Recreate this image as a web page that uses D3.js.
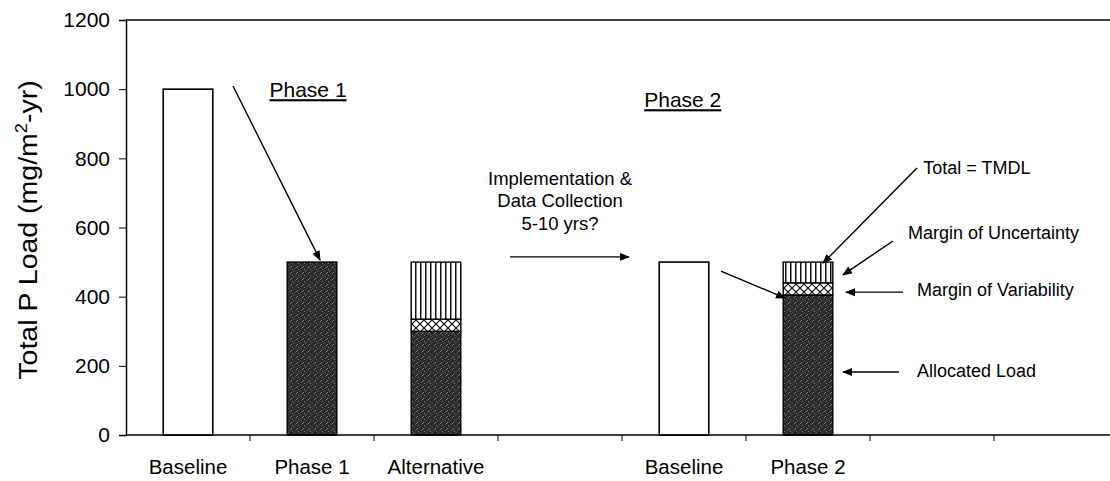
<!DOCTYPE html>
<html><head><meta charset="utf-8">
<script src="https://cdn.jsdelivr.net/npm/d3@7"></script>
<style>
body{margin:0;background:#fff;}
svg{display:block;font-family:"Liberation Sans",Arial,sans-serif;}
</style></head>
<body><svg id="c" width="1110" height="481"></svg>
<script>
// ---- data ----
const categories = ["Baseline","Phase 1","Alternative","","Baseline","Phase 2","",""];
const openLoad     = [1000, 0, 0, 0, 500, 0, 0, 0];
const allocated    = [0, 500, 300, 0, 0, 405, 0, 0];
const variability  = [0, 0, 35, 0, 0, 35, 0, 0];
const uncertainty  = [0, 0, 165, 0, 0, 60, 0, 0];
const yTicks = [0, 200, 400, 600, 800, 1000, 1200];

// annotations in data space: [band position, value]
const arrows = [
  {from:[0.863,1009], to:[1.565,506]},
  {from:[3.097,515],  to:[4.056,515]},
  {from:[4.798,474],  to:[5.315,396]},
  {from:[6.379,772],  to:[5.621,497]},
  {from:[6.185,561],  to:[5.782,463]},
  {from:[6.266,413],  to:[5.806,413]},
  {from:[6.234,182],  to:[5.782,182]}
];
const sideLabels = [
  {text:"Total = TMDL", at:[6.43,772]},
  {text:"Margin of Uncertainty", at:[6.306,584]},
  {text:"Margin of Variability", at:[6.379,419]},
  {text:"Allocated Load", at:[6.379,185]}
];
const phaseTitles = [
  {text:"Phase 1", at:[1.468,998]},
  {text:"Phase 2", at:[4.49,969]}
];
const implLines = ["Implementation &","Data Collection","5-10 yrs?"];
const implPos = [3.5, 743];

// ---- layout ----
(function(){
const svg = d3.select("#c");
const mLeft = 126, mRight = 1118, mTop = 20, mBottom = 435;
const x = d3.scaleBand().domain(d3.range(categories.length)).range([mLeft, mRight]).padding(0);
const y = d3.scaleLinear().domain([0, 1200]).range([mBottom, mTop]);
const bw = x.bandwidth();
const px = v => mLeft + v * bw;

// patterns
const defs = svg.append("defs");
const dark = defs.append("pattern").attr("id","dark").attr("patternUnits","userSpaceOnUse").attr("width",6).attr("height",6);
dark.append("rect").attr("width",6).attr("height",6).attr("fill","#2a2a2a");
[[0,0],[3,2],[1,4],[4,5],[5,1],[2,3]].forEach(([a,b],i)=>dark.append("rect").attr("x",a).attr("y",b).attr("width",1).attr("height",1).attr("fill", i%2? "#808080":"#555"));
const vert = defs.append("pattern").attr("id","vert").attr("patternUnits","userSpaceOnUse").attr("width",5).attr("height",5);
vert.append("rect").attr("width",5).attr("height",5).attr("fill","#fff");
vert.append("rect").attr("x",0).attr("width",1.5).attr("height",5).attr("fill","#111");
const cross = defs.append("pattern").attr("id","cross").attr("patternUnits","userSpaceOnUse").attr("width",8).attr("height",8);
cross.append("rect").attr("width",8).attr("height",8).attr("fill","#fff");
cross.append("path").attr("d","M0,0L8,8M8,0L0,8").attr("stroke","#111").attr("stroke-width",1.2);
defs.append("marker").attr("id","ah").attr("viewBox","0 0 10 10").attr("refX",9).attr("refY",5)
  .attr("markerWidth",10).attr("markerHeight",10).attr("markerUnits","userSpaceOnUse").attr("orient","auto")
  .append("path").attr("d","M0,1L10,5L0,9Z").attr("fill","#000");

// frame
svg.append("line").attr("x1",mLeft).attr("x2",mRight).attr("y1",mTop).attr("y2",mTop).attr("stroke","#000").attr("stroke-width",1.5);

// bars
const bx = i => x(i) + bw*0.3, bwid = bw*0.4;
const g = svg.append("g");
categories.forEach((c,i)=>{
  if (openLoad[i]>0) g.append("rect").attr("x",bx(i)).attr("y",y(openLoad[i])).attr("width",bwid).attr("height",y(0)-y(openLoad[i]))
     .attr("fill","#fff").attr("stroke","#000").attr("stroke-width",1.6);
  let base = 0;
  [[allocated,"url(#dark)"],[variability,"url(#cross)"],[uncertainty,"url(#vert)"]].forEach(([arr,f])=>{
    const v = arr[i]; if(!v) return;
    g.append("rect").attr("x",bx(i)).attr("y",y(base+v)).attr("width",bwid).attr("height",y(base)-y(base+v))
      .attr("fill",f).attr("stroke","#000").attr("stroke-width",1.4);
    base += v;
  });
});

// axes
const yAxis = d3.axisLeft(y).tickValues(yTicks).tickFormat(d3.format("d")).tickSize(7).tickPadding(9);
const ya = svg.append("g").attr("transform",`translate(${mLeft},0)`).call(yAxis);
ya.selectAll("text").attr("font-size",21).attr("font-family","Liberation Sans, Arial, sans-serif").attr("fill","#000");
ya.select(".domain").attr("stroke-width",1.5);
const xa = svg.append("g").attr("transform",`translate(0,${mBottom})`);
xa.append("line").attr("x1",mLeft).attr("x2",mRight).attr("stroke","#000").attr("stroke-width",1.5);
d3.range(1, categories.length).forEach(i=>xa.append("line").attr("x1",x(i)).attr("x2",x(i)).attr("y1",0).attr("y2",6).attr("stroke","#000"));
categories.forEach((c,i)=>xa.append("text").attr("x",x(i)+bw/2).attr("y",39).attr("text-anchor","middle").attr("font-size",20.5).text(c));

// y title
const yt = svg.append("text").attr("transform","translate(37,230) rotate(-90) scale(1.14,1)").attr("text-anchor","middle").attr("font-size",25);
yt.append("tspan").text("Total P Load (mg/m");
yt.append("tspan").attr("dy",-10).attr("font-size",16).text("2");
yt.append("tspan").attr("dy",10).text("-yr)");

// annotations
arrows.forEach(a=>svg.append("line").attr("x1",px(a.from[0])).attr("y1",y(a.from[1])).attr("x2",px(a.to[0])).attr("y2",y(a.to[1]))
  .attr("stroke","#000").attr("stroke-width",1.4).attr("marker-end","url(#ah)"));
sideLabels.forEach(l=>svg.append("text").attr("x",px(l.at[0])).attr("y",y(l.at[1])).attr("dy","0.35em").attr("font-size",18).text(l.text));
phaseTitles.forEach(l=>svg.append("text").attr("x",px(l.at[0])).attr("y",y(l.at[1])).attr("dy","0.35em").attr("text-anchor","middle")
  .attr("font-size",21).attr("text-decoration","underline").text(l.text));
implLines.forEach((t,i)=>svg.append("text").attr("x",px(implPos[0])).attr("y",y(implPos[1])+i*22.5).attr("dy","0.35em")
  .attr("text-anchor","middle").attr("font-size",18.5).text(t));
})();
</script></body></html>
